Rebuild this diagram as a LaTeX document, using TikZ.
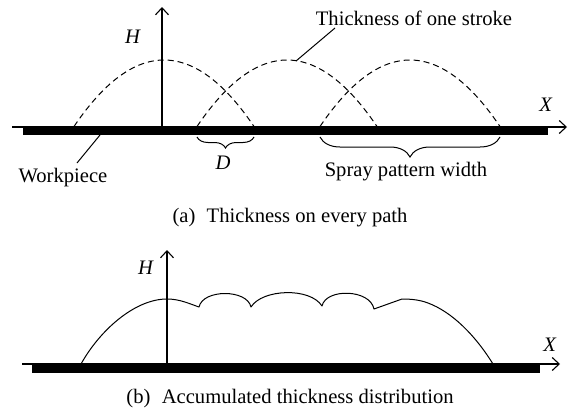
\documentclass[tikz,border=0pt]{standalone}
\usepackage{fontspec}
\setmainfont{Liberation Serif}
\usetikzlibrary{arrows.meta,decorations.pathreplacing}
\begin{document}
\begin{tikzpicture}[x=1pt,y=-1pt,
  every node/.style={inner sep=0pt,font=\fontsize{20.6}{24}\selectfont},
  axisline/.style={line width=1.1pt,-{Straight Barb[length=7pt,width=13pt]}},
  barbox/.style={fill=black,draw=none},
  strokecurve/.style={line width=1pt,dash pattern=on 6pt off 4pt},
  thinline/.style={line width=1pt},
  bracedown/.style={line width=1pt,decorate,decoration={brace,mirror,amplitude=#1}},
  lbl/.style={anchor=center}]
\useasboundingbox (0,0) rectangle (570,415);

% ---------- panel (a) ----------
\coordinate (axA0) at (12,127);
\coordinate (axA1) at (567,127);
\draw[axisline] (axA0) -- (axA1);
\fill[barbox] (23,126.5) rectangle (548,135);
\coordinate (hA0) at (162,127);
\coordinate (hA1) at (162,7);
\draw[axisline] (hA0) -- (hA1);
\node[lbl] (HA) at (133,37) {\textit{H}};
\node[lbl] (XA) at (546,105) {\textit{X}};

\foreach \c in {164,287,410}{
  \draw[strokecurve] plot[domain=-1:1,samples=61,smooth] ({\c+90*\x},{126.5-66.5*(1-\x*\x)});
}

\node[lbl] (tstroke) at (414,18) {Thickness of one stroke};
\coordinate (strokept) at (296,61);
\coordinate (strokeend) at (335,28);
\draw[thinline] (strokept) -- (strokeend);

\node[lbl] (work) at (63,178) {Workpiece};
\coordinate (workpt) at (100,135);
\coordinate (workend) at (77,163);
\draw[thinline] (workpt) -- (workend);

\coordinate (dL) at (197,137);
\coordinate (dR) at (254,137);
\draw[bracedown=11pt] (dL) -- (dR);
\node[lbl] (D) at (223,163) {\textit{D}};

\coordinate (sL) at (320,137);
\coordinate (sR) at (500,137);
\draw[bracedown=20pt] (sL) -- (sR);
\node[lbl] (spray) at (406,172) {Spray pattern width};

\node[lbl] (capA) at (290,218) {(a)\hspace{0.55em}Thickness on every path};

% ---------- panel (b) ----------
\coordinate (axB0) at (22,364);
\coordinate (axB1) at (560,364);
\draw[axisline] (axB0) -- (axB1);
\fill[barbox] (32,364) rectangle (540,373);
\coordinate (hB0) at (167,364);
\coordinate (hB1) at (167,250);
\draw[axisline] (hB0) -- (hB1);
\node[lbl] (HB) at (146,268) {\textit{H}};
\node[lbl] (XB) at (550,345) {\textit{X}};

\draw[thinline,line join=round]
  (81,364) .. controls (100,330) and (135,299) .. (167,299)
  .. controls (180,299) and (190,304) .. (199,307)
  .. controls (203,289) and (247,289) .. (251,307)
  .. controls (262,289) and (310,287) .. (322,306)
  .. controls (326,288) and (370,289) .. (374,309)
  -- (402,299)
  .. controls (412,299) and (420,300) .. (428,303)
  .. controls (452,312) and (475,335) .. (493,364);

\node[lbl] (capB) at (290,399) {(b)\hspace{0.55em}Accumulated thickness distribution};
\end{tikzpicture}
\end{document}
